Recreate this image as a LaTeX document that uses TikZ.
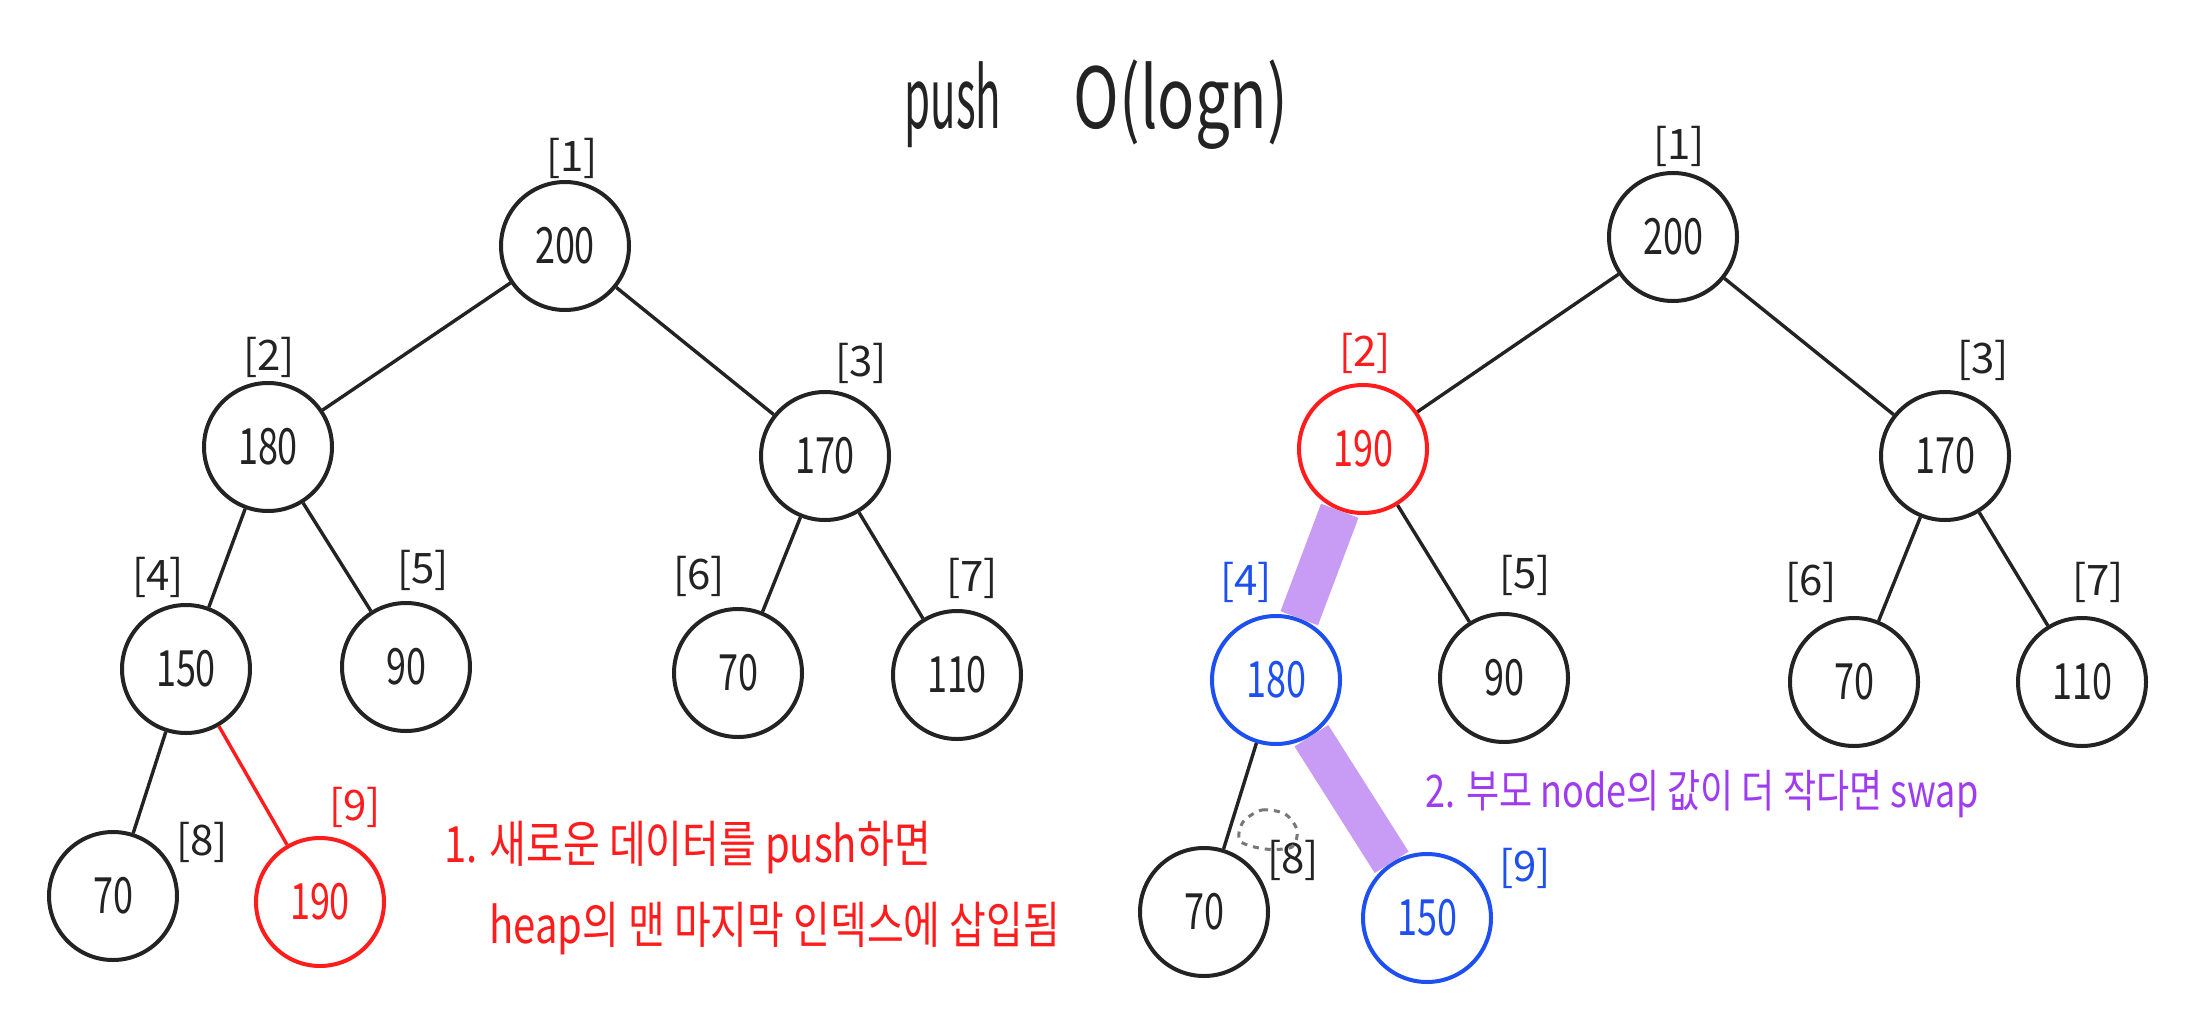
\documentclass[tikz,border=0pt]{standalone}
\usepackage{fontspec}
\usepackage{graphicx}
\setmainfont{Noto Sans CJK KR}
\definecolor{ink}{RGB}{35,35,35}
\definecolor{hred}{RGB}{255,28,28}
\definecolor{hblue}{RGB}{30,80,240}
\definecolor{hpurple}{RGB}{160,60,240}
\definecolor{band}{RGB}{200,155,245}
\definecolor{blob}{RGB}{120,120,120}
\newcommand\hwnum[1]{\scalebox{0.72}[1]{#1}}
\newcommand\tallt[1]{\scalebox{1}[1.25]{#1}}
\tikzset{
  nd/.style={circle, draw=ink, line width=2pt, minimum size=64pt, inner sep=0pt,
    text=ink, font=\fontsize{25}{28}\selectfont},
  ndred/.style={nd, draw=hred, text=hred},
  ndblue/.style={nd, draw=hblue, text=hblue},
  idx/.style={text=ink, font=\fontsize{21}{24}\selectfont, inner sep=0pt},
  edge/.style={draw=ink, line width=1.7pt},
  hilite/.style={draw=band, line width=20pt, line cap=butt},
  note/.style={font=\fontsize{20}{24}\selectfont, anchor=west, inner sep=0pt}
}
\begin{document}
\begin{tikzpicture}[x=0.5pt, y=-0.5pt]
\useasboundingbox[fill=white] (0,0) rectangle (2191,1017);

% title
\node[text=ink, font=\fontsize{28}{32}\selectfont] (tpush) at (953,105) {\scalebox{0.75}[1.5]{push}};
\node[text=ink, font=\fontsize{28}{32}\selectfont] (tlog) at (1181,105) {\scalebox{1.1}[1.5]{O(logn)}};

% ---------- left tree ----------
\node[nd] (a1) at (565,246) {\hwnum{200}};
\node[nd] (a2) at (268,447) {\hwnum{180}};
\node[nd] (a3) at (825,456) {\hwnum{170}};
\node[nd] (a4) at (186,669) {\hwnum{150}};
\node[nd] (a5) at (406,667) {\hwnum{90}};
\node[nd] (a6) at (738,673) {\hwnum{70}};
\node[nd] (a7) at (957,675) {\hwnum{110}};
\node[nd] (a8) at (113,896) {\hwnum{70}};
\node[ndred] (a9) at (320,902) {\hwnum{190}};

\node[idx] (la1) at (572,158) {[1]};
\node[idx] (la2) at (269,357) {[2]};
\node[idx] (la3) at (861,363) {[3]};
\node[idx] (la4) at (158,577) {[4]};
\node[idx] (la5) at (423,570) {[5]};
\node[idx] (la6) at (699,576) {[6]};
\node[idx] (la7) at (972,578) {[7]};
\node[idx] (la8) at (202,842) {[8]};
\node[idx, text=hred] (la9) at (355,807) {[9]};

\draw[edge] (a1) -- (a2);
\draw[edge] (a1) -- (a3);
\draw[edge] (a2) -- (a4);
\draw[edge] (a2) -- (a5);
\draw[edge] (a3) -- (a6);
\draw[edge] (a3) -- (a7);
\draw[edge] (a4) -- (a8);
\draw[edge, draw=hred] (a4) -- (a9);

\node[note, text=hred] (n1a) at (444,848) {\tallt{1. 새로운 데이터를 push하면}};
\node[note, text=hred] (n1b) at (489,929) {\tallt{heap의 맨 마지막 인덱스에 삽입됨}};

% ---------- right tree ----------
\node[nd] (b1) at (1673,237) {\hwnum{200}};
\node[ndred] (b2) at (1363,449) {\hwnum{190}};
\node[nd] (b3) at (1945,456) {\hwnum{170}};
\node[ndblue] (b4) at (1276,680) {\hwnum{180}};
\node[nd] (b5) at (1504,678) {\hwnum{90}};
\node[nd] (b6) at (1854,682) {\hwnum{70}};
\node[nd] (b7) at (2082,682) {\hwnum{110}};
\node[nd] (b8) at (1204,912) {\hwnum{70}};
\node[ndblue] (b9) at (1427,918) {\hwnum{150}};

\node[idx] (lb1) at (1679,146) {[1]};
\node[idx, text=hred] (lb2) at (1365,353) {[2]};
\node[idx] (lb3) at (1983,360) {[3]};
\node[idx, text=hblue] (lb4) at (1246,582) {[4]};
\node[idx] (lb5) at (1525,575) {[5]};
\node[idx] (lb6) at (1811,582) {[6]};
\node[idx] (lb7) at (2098,582) {[7]};
\node[idx] (lb8) at (1293,860) {[8]};
\node[idx, text=hblue] (lb9) at (1525,868) {[9]};

\draw[edge] (b1) -- (b2);
\draw[edge] (b1) -- (b3);
\draw[edge] (b2) -- (b5);
\draw[edge] (b3) -- (b6);
\draw[edge] (b3) -- (b7);
\draw[edge] (b4) -- (b8);
\draw[hilite] (b2) -- (b4);
\draw[hilite] (b4) -- (b9);

% small dashed mark near [8]
\draw[blob, dashed, line width=1.5pt] plot[smooth cycle] coordinates {(1243,822) (1262,810) (1285,814) (1297,830) (1292,847) (1265,849) (1240,841)};

\node[note, text=hpurple, font=\fontsize{18}{22}\selectfont] (n2) at (1425,794) {\tallt{2. 부모 node의 값이 더 작다면 swap}};
\end{tikzpicture}
\end{document}
